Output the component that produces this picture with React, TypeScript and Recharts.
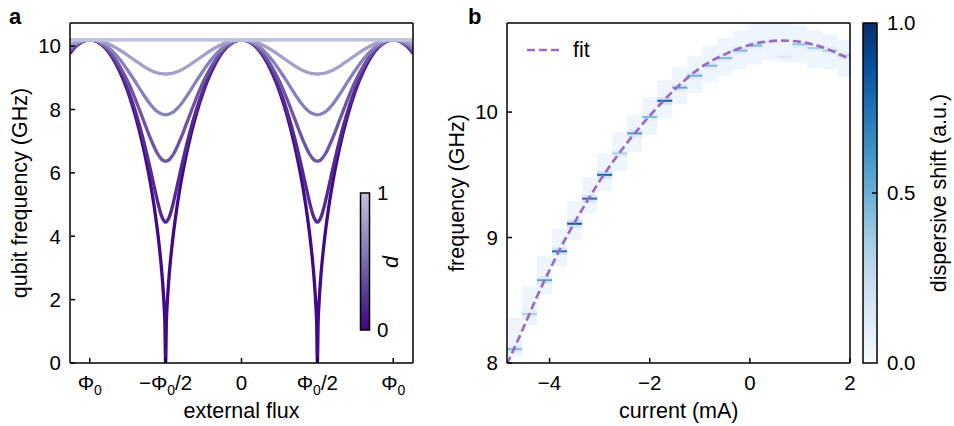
import React from 'react';
import { LineChart, ComposedChart, Line, XAxis, YAxis, ReferenceArea, ReferenceLine } from 'recharts';

const FONT = '"Liberation Sans", Arial, Helvetica, sans-serif';
const TICK_FS = 20.5;
const LABEL_FS = 21.5;

// ---------- Panel a: qubit frequency vs external flux ----------
const fluxX = [
  -1.13, -1.1, -1.0, -0.9, -0.8, -0.75, -0.7, -0.65, -0.6, -0.57, -0.55, -0.53, -0.52, -0.51, -0.505, -0.5,
  -0.495, -0.49, -0.48, -0.47, -0.45, -0.43, -0.4, -0.35, -0.3, -0.25, -0.2, -0.1, 0, 0.1, 0.2, 0.25, 0.3,
  0.35, 0.4, 0.43, 0.45, 0.47, 0.48, 0.49, 0.495, 0.5, 0.505, 0.51, 0.52, 0.53, 0.55, 0.57, 0.6, 0.65, 0.7,
  0.75, 0.8, 0.9, 1.0, 1.1, 1.13,
];
const freqD00 = [
  9.77, 9.95, 10.2, 9.95, 9.17, 8.58, 7.82, 6.87, 5.67, 4.76, 4.03, 3.13, 2.56, 1.81, 1.28, 0,
  1.28, 1.81, 2.56, 3.13, 4.03, 4.76, 5.67, 6.87, 7.82, 8.58, 9.17, 9.95, 10.2, 9.95, 9.17, 8.58, 7.82,
  6.87, 5.67, 4.76, 4.03, 3.13, 2.56, 1.81, 1.28, 0, 1.28, 1.81, 2.56, 3.13, 4.03, 4.76, 5.67, 6.87, 7.82,
  8.58, 9.17, 9.95, 10.2, 9.95, 9.77,
];
const freqD02 = [
  9.79, 9.96, 10.2, 9.96, 9.22, 8.65, 7.95, 7.1, 6.1, 5.46, 5.04, 4.69, 4.56, 4.48, 4.45, 4.45,
  4.45, 4.48, 4.56, 4.69, 5.04, 5.46, 6.1, 7.1, 7.95, 8.65, 9.22, 9.96, 10.2, 9.96, 9.22, 8.65, 7.95,
  7.1, 6.1, 5.46, 5.04, 4.69, 4.56, 4.48, 4.45, 4.45, 4.45, 4.48, 4.56, 4.69, 5.04, 5.46, 6.1, 7.1, 7.95,
  8.65, 9.22, 9.96, 10.2, 9.96, 9.79,
];
const freqD04 = [
  9.84, 9.99, 10.2, 9.99, 9.35, 8.89, 8.33, 7.71, 7.09, 6.76, 6.58, 6.45, 6.4, 6.38, 6.37, 6.37,
  6.37, 6.38, 6.4, 6.45, 6.58, 6.76, 7.09, 7.71, 8.33, 8.89, 9.35, 9.99, 10.2, 9.99, 9.35, 8.89, 8.33,
  7.71, 7.09, 6.76, 6.58, 6.45, 6.4, 6.38, 6.37, 6.37, 6.37, 6.38, 6.4, 6.45, 6.58, 6.76, 7.09, 7.71, 8.33,
  8.89, 9.35, 9.99, 10.2, 9.99, 9.84,
];
const freqD06 = [
  9.93, 10.04, 10.2, 10.04, 9.57, 9.24, 8.88, 8.5, 8.16, 8.0, 7.92, 7.87, 7.85, 7.84, 7.84, 7.83,
  7.84, 7.84, 7.85, 7.87, 7.92, 8.0, 8.16, 8.5, 8.88, 9.24, 9.57, 10.04, 10.2, 10.04, 9.57, 9.24, 8.88,
  8.5, 8.16, 8.0, 7.92, 7.87, 7.85, 7.84, 7.84, 7.83, 7.84, 7.84, 7.85, 7.87, 7.92, 8.0, 8.16, 8.5, 8.88,
  9.24, 9.57, 10.04, 10.2, 10.04, 9.93,
];
const freqD08 = [
  10.05, 10.11, 10.2, 10.11, 9.87, 9.71, 9.54, 9.38, 9.24, 9.18, 9.15, 9.13, 9.13, 9.12, 9.12, 9.12,
  9.12, 9.12, 9.13, 9.13, 9.15, 9.18, 9.24, 9.38, 9.54, 9.71, 9.87, 10.11, 10.2, 10.11, 9.87, 9.71, 9.54,
  9.38, 9.24, 9.18, 9.15, 9.13, 9.13, 9.12, 9.12, 9.12, 9.12, 9.12, 9.13, 9.13, 9.15, 9.18, 9.24, 9.38, 9.54,
  9.71, 9.87, 10.11, 10.2, 10.11, 10.05,
];
const fluxEnds = [-1.13, 1.13];
const freqD10 = [10.2, 10.2];

const dKeys = ['d00', 'd02', 'd04', 'd06', 'd08'];
const dColors = ['#43098a', '#552990', '#6c55a5', '#8481bc', '#a3a0cb', '#c2c3df'];
const fluxTicks = [-1, -0.5, 0, 0.5, 1];
const fluxTickLabels = ['Φ₀', '−Φ₀/2', '0', 'Φ₀/2', 'Φ₀'];
const freqTicksA = [0, 2, 4, 6, 8, 10];

// ---------- Panel b: spectroscopy vs current ----------
const currentTicks = [-4, -2, 0, 2];
const freqTicksB = [8, 9, 10];
const fitCurrent = [-4.85, -4.5, -4.25, -4.0, -3.75, -3.5, -3.0, -2.5, -2.0, -1.5, -1.0, -0.5, 0, 0.3, 0.65, 1.0, 1.5, 2.0];
const fitFreq = [7.99, 8.3, 8.53, 8.74, 8.94, 9.12, 9.45, 9.73, 9.97, 10.18, 10.35, 10.46, 10.535, 10.56, 10.57, 10.56, 10.51, 10.42];

const blockCurrent = [-4.7, -4.4, -4.1, -3.8, -3.5, -3.2, -2.9, -2.6, -2.3, -2.0, -1.7, -1.4, -1.1, -0.8, -0.5, -0.2, 0.1, 0.4, 0.7, 1.0, 1.3, 1.6, 1.9];
const blockLow = [8.05, 8.3, 8.55, 8.77, 8.98, 9.19, 9.37, 9.53, 9.68, 9.82, 9.95, 10.06, 10.15, 10.24, 10.29, 10.34, 10.38, 10.41, 10.4, 10.39, 10.35, 10.34, 10.28];
const blockHigh = [8.36, 8.61, 8.85, 9.07, 9.29, 9.48, 9.67, 9.84, 9.98, 10.12, 10.25, 10.36, 10.45, 10.53, 10.59, 10.65, 10.71, 10.71, 10.71, 10.69, 10.65, 10.62, 10.58];
const blockPeak = [8.11, 8.39, 8.66, 8.89, 9.11, 9.31, 9.5, 9.67, 9.83, 9.96, 10.09, 10.195, 10.29, 10.37, 10.43, 10.49, 10.53, 10.56, 10.44, 10.54, 10.51, 10.49, 10.45];
const blockStrength = [0.45, 0.35, 0.55, 0.75, 0.85, 0.75, 0.8, 0.35, 0.6, 0.45, 0.8, 0.55, 0.5, 0.45, 0.45, 0.45, 0.45, 0.15, 0.15, 0.4, 0.35, 0.35, 0.35];
const blockHalfWidth = 0.15;

const BLUES = ['#f7fbff', '#deebf7', '#c6dbef', '#9ecae1', '#6baed6', '#4292c6', '#2171b5', '#08519c', '#08306b'];
function hexToRgb(h: string) {
  return [parseInt(h.slice(1, 3), 16), parseInt(h.slice(3, 5), 16), parseInt(h.slice(5, 7), 16)];
}
function blues(t: number) {
  const s = Math.max(0, Math.min(1, t)) * 8;
  const i = Math.min(7, Math.floor(s));
  const f = s - i;
  const a = hexToRgb(BLUES[i]);
  const b = hexToRgb(BLUES[i + 1]);
  const c = a.map((v, k) => Math.round(v + (b[k] - v) * f));
  return `rgb(${c[0]},${c[1]},${c[2]})`;
}

const fluxRows = fluxX.map((x, i) => ({
  x,
  d00: freqD00[i],
  d02: freqD02[i],
  d04: freqD04[i],
  d06: freqD06[i],
  d08: freqD08[i],
}));
const flatRows = fluxEnds.map((x, i) => ({ x, d10: freqD10[i] }));
const fitRows = fitCurrent.map((x, i) => ({ x, f: fitFreq[i] }));

const axisLine = { stroke: '#000', strokeWidth: 1.5 };
const tickLine = { stroke: '#000', strokeWidth: 1.5 };
const tickStyle = { fontSize: TICK_FS, fill: '#000', fontFamily: FONT };
const minusFmt = (v: number) => (v < 0 ? '−' + Math.abs(v) : String(v));

const FluxTick = (props: any) => {
  const { x, y, payload } = props;
  const idx = fluxTicks.indexOf(payload.value);
  const label = idx >= 0 ? fluxTickLabels[idx] : String(payload.value);
  const parts = label.split('₀');
  const children: any[] = [];
  parts.forEach((p, i) => {
    if (i > 0) {
      children.push(
        <tspan key={'s' + i} dy={5} fontSize={14}>
          0
        </tspan>
      );
      children.push(
        <tspan key={'p' + i} dy={-5}>
          {p}
        </tspan>
      );
    } else if (p) {
      children.push(<tspan key={'p' + i}>{p}</tspan>);
    }
  });
  return (
    <text x={x} y={y + TICK_FS * 0.71} textAnchor="middle" fontSize={TICK_FS} fontFamily={FONT} fill="#000">
      {children}
    </text>
  );
};

const PanelA = () => (
  <LineChart width={440} height={426} data={fluxRows} margin={{ top: 22, right: 26, left: 0, bottom: 0 }}>
    <XAxis
      xAxisId="bottom"
      dataKey="x"
      type="number"
      domain={[-1.13, 1.13]}
      ticks={fluxTicks}
      interval={0}
      tick={<FluxTick />}
      tickSize={-5}
      tickMargin={17}
      height={63}
      axisLine={axisLine}
      tickLine={tickLine}
      allowDataOverflow
    />
    <XAxis
      xAxisId="top"
      orientation="top"
      dataKey="x"
      type="number"
      domain={[-1.13, 1.13]}
      ticks={fluxTicks}
      interval={0}
      tick={false}
      tickSize={-5}
      height={1}
      axisLine={axisLine}
      tickLine={tickLine}
      allowDataOverflow
    />
    <YAxis
      yAxisId="left"
      type="number"
      domain={[0, 10.73]}
      ticks={freqTicksA}
      interval={0}
      tick={tickStyle}
      tickSize={-5}
      tickMargin={14}
      width={70}
      axisLine={axisLine}
      tickLine={tickLine}
      allowDataOverflow
    />
    <YAxis
      yAxisId="right"
      orientation="right"
      type="number"
      domain={[0, 10.73]}
      ticks={freqTicksA}
      interval={0}
      tick={false}
      tickSize={-5}
      width={1}
      axisLine={axisLine}
      tickLine={tickLine}
      allowDataOverflow
    />
    {dKeys.map((k, i) => (
      <Line
        key={k}
        xAxisId="bottom"
        yAxisId="left"
        dataKey={k}
        type="monotone"
        stroke={dColors[i]}
        strokeWidth={3.3}
        dot={false}
        activeDot={false}
        isAnimationActive={false}
      />
    ))}
    <Line
      xAxisId="bottom"
      yAxisId="left"
      data={flatRows}
      dataKey="d10"
      type="linear"
      stroke={dColors[5]}
      strokeWidth={3.8}
      dot={false}
      activeDot={false}
      isAnimationActive={false}
    />
  </LineChart>
);

const PanelB = () => (
  <ComposedChart width={514} height={426} data={fitRows} margin={{ top: 22, right: 103, left: 0, bottom: 0 }}>
    <XAxis
      xAxisId="bottom"
      dataKey="x"
      type="number"
      domain={[-4.85, 2]}
      ticks={currentTicks}
      interval={0}
      tick={tickStyle}
      tickFormatter={minusFmt}
      tickSize={-5}
      tickMargin={17}
      height={63}
      axisLine={axisLine}
      tickLine={tickLine}
      allowDataOverflow
    />
    <XAxis
      xAxisId="top"
      orientation="top"
      dataKey="x"
      type="number"
      domain={[-4.85, 2]}
      ticks={currentTicks}
      interval={0}
      tick={false}
      tickSize={-5}
      height={1}
      axisLine={axisLine}
      tickLine={tickLine}
      allowDataOverflow
    />
    <YAxis
      yAxisId="left"
      type="number"
      domain={[8, 10.71]}
      ticks={freqTicksB}
      interval={0}
      tick={tickStyle}
      tickSize={-5}
      tickMargin={14}
      width={67}
      axisLine={axisLine}
      tickLine={tickLine}
      allowDataOverflow
    />
    <YAxis
      yAxisId="right"
      orientation="right"
      type="number"
      domain={[8, 10.71]}
      ticks={freqTicksB}
      interval={0}
      tick={false}
      tickSize={-5}
      width={1}
      axisLine={axisLine}
      tickLine={tickLine}
      allowDataOverflow
    />
    {blockCurrent.map((c, i) => (
      <ReferenceArea
        key={'bg' + i}
        xAxisId="bottom"
        yAxisId="left"
        x1={c - blockHalfWidth}
        x2={c + blockHalfWidth}
        y1={blockLow[i]}
        y2={blockHigh[i]}
        fill="#eef5fc"
        fillOpacity={1}
        stroke="none"
        ifOverflow="hidden"
      />
    ))}
    {blockCurrent.map((c, i) => (
      <ReferenceArea
        key={'glow' + i}
        xAxisId="bottom"
        yAxisId="left"
        x1={c - blockHalfWidth}
        x2={c + blockHalfWidth}
        y1={blockPeak[i] - 0.03}
        y2={blockPeak[i] + 0.03}
        fill={blues(blockStrength[i] * 0.4)}
        fillOpacity={0.45}
        stroke="none"
        ifOverflow="hidden"
      />
    ))}
    {blockCurrent.map((c, i) => (
      <ReferenceLine
        key={'pk' + i}
        xAxisId="bottom"
        yAxisId="left"
        segment={[
          { x: c - blockHalfWidth, y: blockPeak[i] },
          { x: c + blockHalfWidth, y: blockPeak[i] },
        ]}
        stroke={blues(blockStrength[i])}
        strokeWidth={2}
        ifOverflow="hidden"
      />
    ))}
    <Line
      xAxisId="bottom"
      yAxisId="left"
      dataKey="f"
      type="monotone"
      stroke="#9a6ac6"
      strokeWidth={2.7}
      strokeDasharray="8 4"
      dot={false}
      activeDot={false}
      isAnimationActive={false}
    />
  </ComposedChart>
);

const purpleStops = ['#40057f', '#552990', '#6c55a5', '#8481bc', '#a3a0cb', '#c2c3df'];

const Overlay = () => (
  <svg
    width={954}
    height={426}
    style={{ position: 'absolute', left: 0, top: 0, pointerEvents: 'none' }}
    fontFamily={FONT}
  >
    <defs>
      <linearGradient id="gradA" x1="0" y1="1" x2="0" y2="0">
        {purpleStops.map((c, i) => (
          <stop key={i} offset={i / (purpleStops.length - 1)} stopColor={c} />
        ))}
      </linearGradient>
      <linearGradient id="gradB" x1="0" y1="1" x2="0" y2="0">
        {BLUES.map((c, i) => (
          <stop key={i} offset={i / (BLUES.length - 1)} stopColor={c} />
        ))}
      </linearGradient>
    </defs>
    {/* panel letters */}
    <text x={9} y={24} fontSize={22} fontWeight="bold" fill="#000">a</text>
    <text x={468} y={24} fontSize={22} fontWeight="bold" fill="#000">b</text>
    {/* axis titles */}
    <text transform="translate(27,193) rotate(-90)" textAnchor="middle" fontSize={LABEL_FS} fill="#000">
      qubit frequency (GHz)
    </text>
    <text x={241.5} y={418} textAnchor="middle" fontSize={LABEL_FS} fill="#000">external flux</text>
    <text transform="translate(464,193) rotate(-90)" textAnchor="middle" fontSize={LABEL_FS} fill="#000">
      frequency (GHz)
    </text>
    <text x={678.75} y={418} textAnchor="middle" fontSize={LABEL_FS} fill="#000">current (mA)</text>
    {/* colorbar a */}
    <rect x={360.5} y={193} width={9} height={137} fill="url(#gradA)" stroke="#000" strokeWidth={1.5} />
    <text x={377} y={200} fontSize={TICK_FS} fill="#000">1</text>
    <text x={377} y={337} fontSize={TICK_FS} fill="#000">0</text>
    <text transform="translate(398,262) rotate(-90)" textAnchor="middle" fontSize={LABEL_FS} fontStyle="italic" fill="#000">
      d
    </text>
    {/* legend b */}
    <line x1={527} y1={50} x2={559} y2={50} stroke="#9a6ac6" strokeWidth={2.7} strokeDasharray="8 4" />
    <text x={573} y={57} fontSize={LABEL_FS} fill="#000">fit</text>
    {/* colorbar b */}
    <rect x={863} y={23} width={14} height={340} fill="url(#gradB)" stroke="#000" strokeWidth={1.5} />
    <line x1={872} y1={193} x2={877} y2={193} stroke="#000" strokeWidth={1.5} />
    <text x={887} y={30} fontSize={TICK_FS} fill="#000">1.0</text>
    <text x={887} y={200} fontSize={TICK_FS} fill="#000">0.5</text>
    <text x={887} y={370} fontSize={TICK_FS} fill="#000">0.0</text>
    <text transform="translate(946,193) rotate(-90)" textAnchor="middle" fontSize={LABEL_FS} fill="#000">
      dispersive shift (a.u.)
    </text>
  </svg>
);

export default function App() {
  return (
    <div style={{ position: 'absolute', left: 0, top: 0, width: 954, height: 426, background: '#fff', fontFamily: FONT }}>
      <div style={{ position: 'absolute', left: 0, top: 0 }}>
        <PanelA />
      </div>
      <div style={{ position: 'absolute', left: 440, top: 0 }}>
        <PanelB />
      </div>
      <Overlay />
    </div>
  );
}
